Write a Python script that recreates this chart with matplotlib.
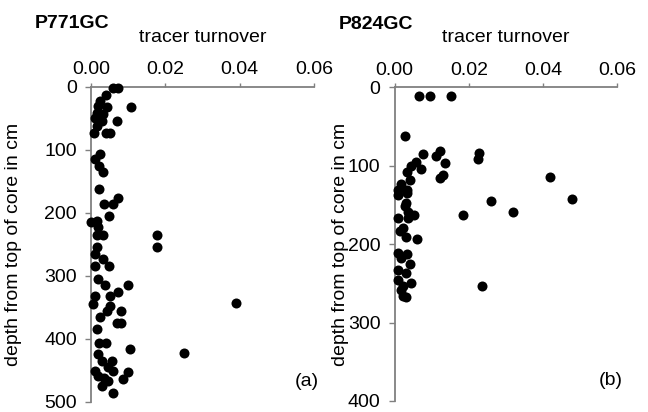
import matplotlib
matplotlib.use('Agg')
import matplotlib.pyplot as plt
from matplotlib.ticker import FormatStrFormatter

plt.rcParams['font.family'] = ['Liberation Sans', 'DejaVu Sans']
plt.rcParams['font.size'] = 14

# P771GC: tracer turnover vs depth (cm)
p771_turnover = [0.0060, 0.0072, 0.0040, 0.0024, 0.0020, 0.0042, 0.0108, 0.0015, 0.0033, 0.0011,
                 0.0029, 0.0069, 0.0015, 0.0009, 0.0040, 0.0051, 0.0024, 0.0011, 0.0022, 0.0033,
                 0.0022, 0.0036, 0.0060, 0.0073, 0.0048, 0.0000, 0.0015, 0.0018, 0.0033, 0.0015,
                 0.0177, 0.0177, 0.0015, 0.0011, 0.0033, 0.0011, 0.0048, 0.0018, 0.0038, 0.0073,
                 0.0100, 0.0011, 0.0051, 0.0006, 0.0051, 0.0390, 0.0082, 0.0042, 0.0024, 0.0069,
                 0.0082, 0.0015, 0.0022, 0.0040, 0.0105, 0.0250, 0.0020, 0.0029, 0.0056, 0.0011,
                 0.0060, 0.0100, 0.0020, 0.0087, 0.0047, 0.0029, 0.0060, 0.0035, 0.0045]
p771_depth = [2, 2, 13, 23, 30, 33, 33, 41, 43, 49,
              54, 54, 62, 74, 74, 74, 107, 115, 125, 136,
              163, 186, 186, 177, 205, 214, 213, 223, 235, 235,
              235, 254, 255, 266, 273, 284, 284, 305, 315, 325,
              315, 332, 332, 345, 348, 343, 356, 356, 365, 375,
              375, 385, 406, 406, 416, 422, 424, 435, 435, 451,
              451, 453, 459, 464, 467, 475, 485, 462, 445]

# P824GC
p824_turnover = [0.0065, 0.0095, 0.0153, 0.0029, 0.0077, 0.0122, 0.0113, 0.0137, 0.0059, 0.0045,
                 0.0072, 0.0034, 0.0131, 0.0122, 0.0041, 0.0018, 0.0009, 0.0034, 0.0228, 0.0226,
                 0.0420, 0.0259, 0.0477, 0.0184, 0.0320, 0.0236, 0.0009, 0.0034, 0.0032, 0.0027,
                 0.0036, 0.0052, 0.0009, 0.0036, 0.0014, 0.0023, 0.0032, 0.0061, 0.0009, 0.0034,
                 0.0018, 0.0041, 0.0009, 0.0032, 0.0009, 0.0045, 0.0023, 0.0018, 0.0023, 0.0032]
p824_depth = [12, 12, 12, 62, 85, 81, 88, 97, 95, 101,
              105, 108, 112, 116, 118, 123, 131, 131, 84, 92,
              114, 145, 143, 163, 159, 254, 138, 135, 148, 152,
              159, 163, 167, 167, 184, 180, 191, 193, 212, 213,
              218, 225, 233, 237, 246, 250, 254, 259, 266, 267]

# name, x, y, max depth, panel letter, axes rect, ylabel pad
panels = [
    ('P771GC', p771_turnover, p771_depth, 500, '(a)', [0.1404, 0.0243, 0.3441, 0.7653], 16),
    ('P824GC', p824_turnover, p824_depth, 400, '(b)', [0.6088, 0.0267, 0.3438, 0.7621], -1),
]

fig = plt.figure(figsize=(6.48, 4.12), dpi=100)

for name, x, y, ymax, letter, rect, ypad in panels:
    ax = fig.add_axes(rect)
    ax.scatter(x, y, s=52, color='black', linewidths=0, clip_on=False, zorder=3)
    ax.set_xlim(0, 0.06)
    ax.set_ylim(ymax, 0)
    ax.set_xticks([0, 0.02, 0.04, 0.06])
    ax.set_yticks(range(0, ymax + 1, 100))
    ax.xaxis.set_major_formatter(FormatStrFormatter('%.2f'))
    ax.xaxis.tick_top()
    ax.xaxis.set_label_position('top')
    ax.set_xlabel('tracer turnover', labelpad=14)
    ax.set_ylabel('depth from top of core in cm', labelpad=ypad)
    for side in ['right', 'bottom']:
        ax.spines[side].set_visible(False)
    for side in ['left', 'top']:
        ax.spines[side].set_color('#808080')
        ax.spines[side].set_linewidth(1.3)
    ax.tick_params(axis='both', direction='out', color='#808080', width=1.0)
    ax.tick_params(axis='x', length=3, pad=3)
    ax.tick_params(axis='y', length=4, pad=6)
    ax.text(0.97, 0.065, letter, transform=ax.transAxes, ha='center', va='center')
    ax.text(-0.25, 1.20, name, transform=ax.transAxes, fontweight='bold', ha='left', va='center')

fig.savefig('out.png', dpi=100)
